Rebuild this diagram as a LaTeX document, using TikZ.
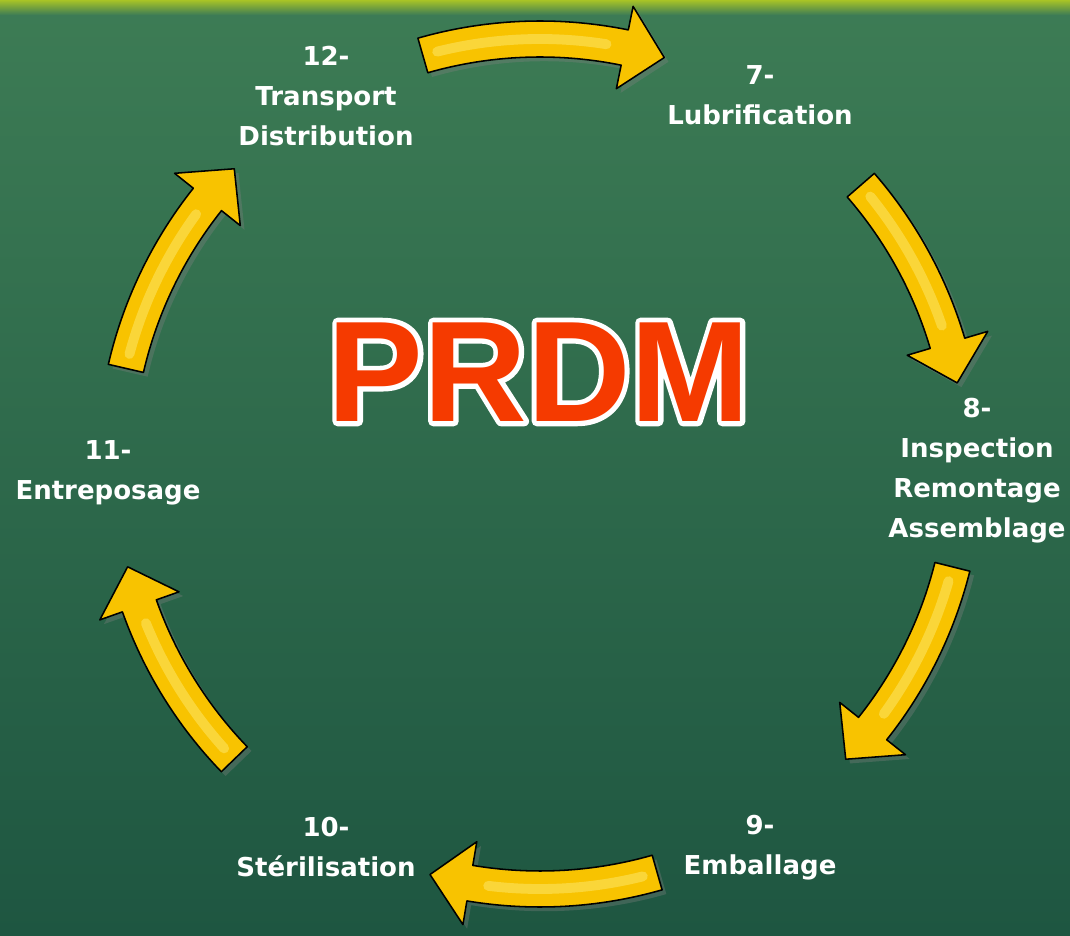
\documentclass[tikz,border=0pt]{standalone}
\usepackage{fontspec}
\setmainfont{DejaVu Sans}
\newfontfamily\prdmfont{Liberation Sans}
\usetikzlibrary{shadows}

\definecolor{boardtop}{HTML}{3D7C55}
\definecolor{boardbot}{HTML}{1E5641}
\definecolor{arrowgold}{HTML}{F8C300}
\definecolor{prdmred}{HTML}{F53A00}

\tikzset{
  stage/.style={text=white, font=\bfseries\fontsize{18.5}{28.4}\selectfont, align=center, inner sep=0pt},
  arrowbody/.style={fill=arrowgold, draw=black, line width=1.1pt, line join=round,
    drop shadow={shadow xshift=3pt, shadow yshift=-3pt, opacity=0.35}},
  arrowshine/.style={draw=yellow!35!white, line width=7, opacity=0.35, line cap=round},
  bigtitle/.style={font=\prdmfont\bfseries\fontsize{102}{110}\selectfont, inner sep=0pt}
}

\newcommand{\R}{425}
% curved block arrow on the ring: #1 tail angle, #2 tip angle
\newcommand{\ringarrow}[2]{%
  \path[arrowbody] (#1:\R+18) arc[start angle=#1, end angle={#2+5.5}, radius=\R+18]
    -- ({#2+5.5}:\R+42) -- (#2:\R) -- ({#2+5.5}:\R-42) -- ({#2+5.5}:\R-18)
    arc[start angle={#2+5.5}, end angle=#1, radius=\R-18] -- cycle;
  \draw[arrowshine] ({#1-2}:\R) arc[start angle={#1-2}, end angle={#2+8}, radius=\R];
}
% white rim round the title letters (stroked glyphs)
\newcommand{\rimtext}[1]{\special{pdf:code 1 1 1 RG 1 j 7 w 1 Tr}#1\special{pdf:code 0 Tr}}

\begin{document}
\begin{tikzpicture}[x=0.025cm, y=0.025cm]
  \useasboundingbox (0,0) rectangle (1070,935);
  \shade[top color=boardtop, bottom color=boardbot] (0,0) rectangle (1070,935);
  \shade[top color=yellow!55!boardtop, bottom color=boardtop] (0,920) rectangle (1070,935);

  \begin{scope}[shift={(540,471)}]
    \ringarrow{106}{73}
    \ringarrow{41}{11}
    \ringarrow{-14}{-44}
    \ringarrow{-74}{-105}
    \ringarrow{-136}{-166}
    \ringarrow{167}{136}
  \end{scope}

  \node[stage] (s12) at (326,839) {12-\\Transport\\Distribution};
  \node[stage] (s7) at (760,840) {7-\\Lubrification};
  \node[stage] (s8) at (977,464) {8-\\Inspection\\Remontage\\Assemblage};
  \node[stage] (s9) at (760,87) {9-\\Emballage};
  \node[stage] (s10) at (326,88) {10-\\Stérilisation};
  \node[stage] (s11) at (108,462) {11-\\Entreposage};

  \node[bigtitle] (rim) at (539,563) {\rimtext{PRDM}};
  \node[bigtitle, text=prdmred] (prdm) at (rim) {PRDM};
\end{tikzpicture}
\end{document}
